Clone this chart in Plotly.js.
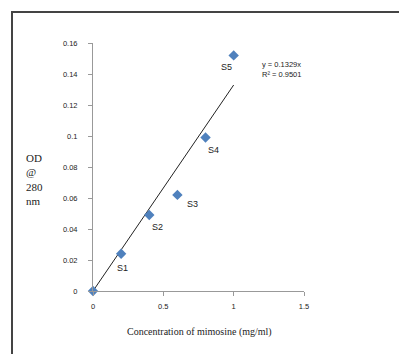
<!DOCTYPE html>
<html>
<head>
<meta charset="utf-8">
<script src="https://cdn.plot.ly/plotly-3.0.1.min.js"></script>
<style>
html,body{margin:0;padding:0;background:#fff;}
#wrap{position:relative;width:399px;height:354px;}
#chart{width:399px;height:354px;}
#frame{position:absolute;left:11px;top:11px;right:0;bottom:0;border-left:2px solid #444;border-top:2px solid #444;pointer-events:none;}
</style>
</head>
<body>
<div id="wrap"><div id="chart"></div><div id="frame"></div></div>
<script>
const concentration = [0, 0.2, 0.4, 0.6, 0.8, 1.0];
const od280 = [0, 0.024, 0.049, 0.062, 0.099, 0.152];
const sampleLabels = ["", "S1", "S2", "S3", "S4", "S5"];
const slope = 0.1329;
const trendX = [0, 1.0];
const xTicks = [0, 0.5, 1, 1.5];
const xTickText = ["0", "0.5", "1", "1.5"];
const yTicks = [0, 0.02, 0.04, 0.06, 0.08, 0.1, 0.12, 0.14, 0.16];
const yTickText = ["0", "0.02", "0.04", "0.06", "0.08", "0.1", "0.12", "0.14", "0.16"];
const labelShift = [[0,0],[1,-14],[8,-12],[15,-9],[8,-12],[-7,-12]];

const traces = [
  {
    x: trendX, y: trendX.map(v => v * slope),
    mode: "lines", type: "scatter",
    line: {color: "#222", width: 1},
    hoverinfo: "skip", showlegend: false
  },
  {
    x: concentration, y: od280,
    mode: "markers", type: "scatter",
    marker: {symbol: "diamond", color: "#4f81bd", size: 8},
    showlegend: false, cliponaxis: false
  }
];

const annotations = [];
for (let i = 0; i < concentration.length; i++) {
  if (!sampleLabels[i]) continue;
  annotations.push({
    x: concentration[i], y: od280[i], xref: "x", yref: "y",
    text: sampleLabels[i], showarrow: false,
    xshift: labelShift[i][0], yshift: labelShift[i][1],
    font: {family: "Liberation Sans, Arial, sans-serif", size: 9, color: "#222"}
  });
}
annotations.push({
  xref: "paper", yref: "paper", x: 0.79, y: 0.94, xanchor: "left", yanchor: "top",
  align: "left", showarrow: false,
  text: "y = 0.1329x<br>R² = 0.9501",
  font: {family: "Liberation Sans, Arial, sans-serif", size: 7.5, color: "#222"}
});
annotations.push({
  xref: "paper", yref: "paper", x: -0.325, y: 0.57, xanchor: "left", yanchor: "top",
  align: "left", showarrow: false,
  text: "OD<br>@<br>280<br>nm",
  font: {family: "Liberation Serif, Times New Roman, serif", size: 11, color: "#222"}
});
annotations.push({
  xref: "paper", yref: "paper", x: 0.505, y: -0.165, xanchor: "center", yanchor: "middle",
  showarrow: false,
  text: "Concentration of mimosine (mg/ml)",
  font: {family: "Liberation Serif, Times New Roman, serif", size: 10, color: "#222"}
});

const layout = {
  width: 399, height: 354,
  margin: {l: 93, r: 95, t: 43, b: 63},
  paper_bgcolor: "#fff", plot_bgcolor: "#fff",
  showlegend: false,
  xaxis: {
    range: [0, 1.5], tickvals: xTicks, ticktext: xTickText,
    showgrid: false, zeroline: false, showline: true, linecolor: "#999", linewidth: 1,
    ticks: "outside", ticklen: 4, tickcolor: "#999", ticklabelstandoff: 4,
    tickfont: {family: "Liberation Sans, Arial, sans-serif", size: 7.5, color: "#222"}
  },
  yaxis: {
    range: [0, 0.16], tickvals: yTicks, ticktext: yTickText,
    showgrid: false, zeroline: false, showline: true, linecolor: "#999", linewidth: 1,
    ticks: "outside", ticklen: 4, tickcolor: "#999", ticklabelstandoff: 9,
    tickfont: {family: "Liberation Sans, Arial, sans-serif", size: 7.5, color: "#222"}
  },
  annotations: annotations
};

Plotly.newPlot("chart", traces, layout, {displayModeBar: false, staticPlot: true});
</script>
</body>
</html>
